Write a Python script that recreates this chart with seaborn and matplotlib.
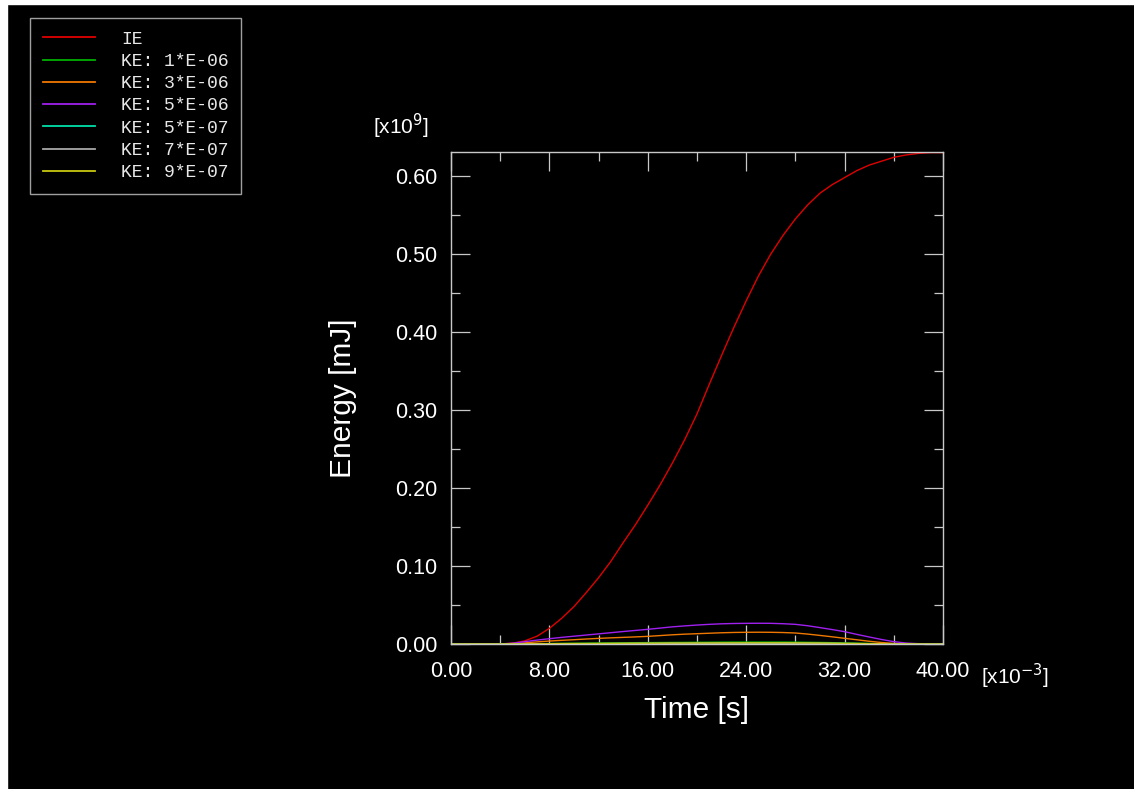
import numpy as np
import pandas as pd
import seaborn as sns
import matplotlib.pyplot as plt
from matplotlib.patches import Rectangle
from matplotlib.ticker import MultipleLocator, FormatStrFormatter

# time in ms (axis shows x10^-3 s), energy in 1e9 mJ
time_ms = list(range(0, 41))

ie = [0, 0, 0, 0, 0, 0.001, 0.004, 0.010, 0.020, 0.033, 0.048, 0.066, 0.085, 0.106, 0.130,
      0.153, 0.178, 0.204, 0.232, 0.262, 0.295, 0.333, 0.370, 0.406, 0.440,
      0.472, 0.500, 0.524, 0.545, 0.563, 0.578, 0.589, 0.598, 0.607, 0.614,
      0.619, 0.624, 0.627, 0.629, 0.630, 0.630]
ke_1e6 = [0, 0, 0, 0, 0, 0.0001, 0.0003, 0.0004, 0.0006, 0.0008, 0.001, 0.0011, 0.0013, 0.0014, 0.0015,
          0.0017, 0.0018, 0.0019, 0.002, 0.0021, 0.0022, 0.0023, 0.0024, 0.0025, 0.0025,
          0.0025, 0.0025, 0.0025, 0.0024, 0.0022, 0.002, 0.0017, 0.0014, 0.0011, 0.0008,
          0.0005, 0.0003, 0.0002, 0.0001, 0, 0]
ke_3e6 = [0, 0, 0, 0, 0, 0.0006, 0.0015, 0.0027, 0.0038, 0.0047, 0.0055, 0.0064, 0.0072, 0.0079, 0.0085,
          0.0091, 0.0098, 0.0108, 0.0118, 0.0126, 0.0132, 0.0138, 0.0144, 0.0148, 0.015,
          0.0151, 0.015, 0.0147, 0.0141, 0.0127, 0.011, 0.0092, 0.0073, 0.0054, 0.0035,
          0.0019, 0.0008, 0.0003, 0.0001, 0, 0]
ke_5e6 = [0, 0, 0, 0, 0, 0.001, 0.003, 0.005, 0.0068, 0.0085, 0.010, 0.0115, 0.013, 0.0145, 0.016,
          0.0174, 0.0188, 0.0204, 0.022, 0.0232, 0.0243, 0.0252, 0.0259, 0.0263, 0.0265,
          0.0266, 0.0265, 0.026, 0.0252, 0.0234, 0.021, 0.0185, 0.0158, 0.0123, 0.009,
          0.0058, 0.003, 0.0012, 0.0004, 0.0001, 0]
ke_5e7 = [0, 0, 0, 0, 0, 0, 0.0001, 0.0001, 0.0002, 0.0002, 0.0003, 0.0003, 0.0004, 0.0004, 0.0005,
          0.0005, 0.0006, 0.0006, 0.0007, 0.0007, 0.0007, 0.0008, 0.0008, 0.0008, 0.0008,
          0.0008, 0.0008, 0.0008, 0.0008, 0.0007, 0.0007, 0.0006, 0.0005, 0.0004, 0.0003,
          0.0002, 0.0001, 0.0001, 0, 0, 0]
ke_7e7 = [0, 0, 0, 0, 0, 0.0001, 0.0001, 0.0002, 0.0003, 0.0003, 0.0004, 0.0005, 0.0005, 0.0006, 0.0006,
          0.0007, 0.0008, 0.0008, 0.0009, 0.0009, 0.001, 0.001, 0.001, 0.0011, 0.0011,
          0.0011, 0.0011, 0.0011, 0.001, 0.001, 0.0009, 0.0008, 0.0006, 0.0005, 0.0003,
          0.0002, 0.0001, 0.0001, 0, 0, 0]
ke_9e7 = [0, 0, 0, 0, 0, 0.0001, 0.0002, 0.0003, 0.0004, 0.0005, 0.0006, 0.0006, 0.0007, 0.0008, 0.0009,
          0.001, 0.001, 0.0011, 0.0012, 0.0012, 0.0013, 0.0013, 0.0014, 0.0014, 0.0015,
          0.0015, 0.0015, 0.0015, 0.0014, 0.0013, 0.0012, 0.001, 0.0008, 0.0006, 0.0004,
          0.0003, 0.0001, 0.0001, 0, 0, 0]

labels = ['IE', 'KE: 1*E-06', 'KE: 3*E-06', 'KE: 5*E-06', 'KE: 5*E-07', 'KE: 7*E-07', 'KE: 9*E-07']
series = [ie, ke_1e6, ke_3e6, ke_5e6, ke_5e7, ke_7e7, ke_9e7]
colors = ['#e00000', '#00b000', '#f07800', '#a020f0', '#00e0a8', '#a8a8a8', '#c8c810']

df = pd.concat([pd.DataFrame({'time': time_ms, 'energy': s, 'series': lab})
                for lab, s in zip(labels, series)], ignore_index=True)

plt.rcParams['font.family'] = ['Liberation Sans', 'DejaVu Sans']
fg = 'white'
edge = '#c8c8c8'

fig = plt.figure(figsize=(11.34, 7.89), dpi=100, facecolor='black')
# thin white margin at left and top
fig.patches.append(Rectangle((0, 0), 7 / 1134, 1, transform=fig.transFigure, color='white', zorder=0))
fig.patches.append(Rectangle((0, 1 - 4 / 789), 1, 4 / 789, transform=fig.transFigure, color='white', zorder=0))

ax = fig.add_axes([451 / 1134, 145 / 789, 492 / 1134, 492 / 789])
ax.set_facecolor('black')

sns.lineplot(data=df, x='time', y='energy', hue='series', hue_order=labels,
             palette=dict(zip(labels, colors)), estimator=None, linewidth=1.0, ax=ax)

ax.set_xlim(0, 40)
ax.set_ylim(0, 0.6308)
ax.xaxis.set_major_locator(MultipleLocator(8))
ax.xaxis.set_minor_locator(MultipleLocator(4))
ax.yaxis.set_major_locator(MultipleLocator(0.1))
ax.yaxis.set_minor_locator(MultipleLocator(0.05))
ax.xaxis.set_major_formatter(FormatStrFormatter('%.2f'))
ax.yaxis.set_major_formatter(FormatStrFormatter('%.2f'))

ax.tick_params(which='both', direction='in', top=True, right=True, color=edge, width=0.9,
               labelcolor=fg, labelsize=15.5)
ax.tick_params(which='major', length=13.7)
ax.tick_params(which='minor', length=6.5)
ax.tick_params(axis='x', which='major', pad=12)
ax.tick_params(axis='y', which='major', pad=10)
for sp in ax.spines.values():
    sp.set_color(edge)
    sp.set_linewidth(1.0)

ax.set_xlabel('Time [s]', fontsize=21.5, color=fg)
ax.set_ylabel('Energy [mJ]', fontsize=21.5, color=fg)
ax.xaxis.set_label_coords(0.5, -(710 - 644) / 492)
ax.xaxis.label.set_va('center')
ax.yaxis.set_label_coords(-(451 - 343) / 492, 0.5)
ax.yaxis.label.set_va('center')

fig.text(401 / 1134, 1 - 126 / 789, r'[x10$^{9}$]', color=fg, fontsize=15, ha='center', va='center')
fig.text(1015 / 1134, 1 - 676 / 789, r'[x10$^{-3}$]', color=fg, fontsize=15, ha='center', va='center')

leg = ax.legend(loc='upper left', bbox_to_anchor=(30 / 1134, 1 - 18 / 789),
                bbox_transform=fig.transFigure, borderaxespad=0, frameon=True, fancybox=False,
                prop={'family': 'Liberation Mono', 'size': 13}, labelcolor='#e8e8e8',
                handlelength=2.9, handletextpad=1.45, labelspacing=0.29, borderpad=0.7)
leg.get_frame().set_facecolor('black')
leg.get_frame().set_edgecolor(edge)
leg.get_frame().set_linewidth(1.0)
for line in leg.get_lines():
    line.set_linewidth(1.3)

fig.savefig('out.png', dpi=100, facecolor='black')
